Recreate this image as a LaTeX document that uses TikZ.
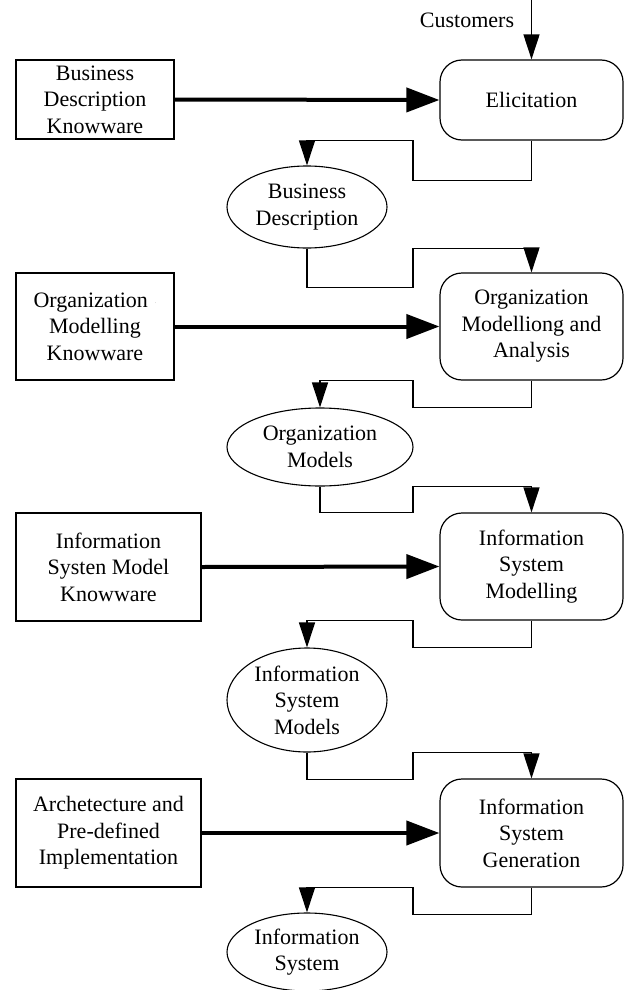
\documentclass[tikz,border=0pt]{standalone}
\usepackage{fontspec}
\setmainfont{Liberation Serif}
\usetikzlibrary{arrows.meta,shapes.geometric}

\tikzset{
  every node/.style={font=\fontsize{22}{26.5}\selectfont, align=center, inner sep=0pt},
  knowbox/.style={draw, line width=1.2pt, rectangle, minimum width=#1},
  knowbox/.default=158pt,
  procbox/.style={draw, line width=1.2pt, rectangle, rounded corners=22pt, minimum width=183pt},
  databox/.style={draw, line width=1.1pt, ellipse, inner sep=0pt},
  flow/.style={line width=1.3pt, -{Triangle[length=25pt,width=16pt]}},
  feed/.style={line width=4pt, -{Triangle[length=33pt,width=24pt]}},
}

\begin{document}
\begin{tikzpicture}[x=1pt,y=-1pt]
  \useasboundingbox (0,0) rectangle (626,990);

  % x position of the return jog of every process output
  \coordinate (jog) at (413,0);
  \coordinate (custin) at (531.5,0);

  % stage 1: elicitation
  \node[knowbox, minimum height=79pt] (bdk) at (95,99.5) {Business\\Description\\Knowware};
  \node[procbox, minimum height=80pt] (elic) at (531.5,100) {Elicitation};
  \node (cust) at (467,20) {Customers};
  \node[databox, minimum width=160pt, minimum height=82pt] (bd) at (307,207) {Business\\Description};

  % stage 2: organization modelling
  \node[knowbox, minimum height=107pt] (omk) at (95,326.5)
    {Organization\hspace{7pt}\textcolor{black!35}{\raisebox{4pt}{\fontsize{6}{6}\selectfont .}}\\Modelling\\Knowware};
  \node[procbox, minimum height=107pt] (oma) at (531.5,326.5) {Organization\\Modelliong and\\Analysis};
  \node[databox, minimum width=186pt, minimum height=78pt] (om) at (320,447) {Organization\\Models};

  % stage 3: information system modelling
  \node[knowbox=185pt, minimum height=108pt] (ismk) at (108.5,567) {Information\\Systen Model\\Knowware};
  \node[procbox, minimum height=107pt] (ism) at (531.5,566.5) {Information\\System\\Modelling};
  \node[databox, minimum width=160pt, minimum height=104pt] (isms) at (307,700) {Information\\System\\Models};

  % stage 4: generation
  \node[knowbox=185pt, minimum height=108pt] (ap) at (108.5,833) {Archetecture and\\Pre-defined\\Implementation};
  \node[procbox, minimum height=108pt] (isg) at (531.5,833) {Information\\System\\Generation};
  \node[databox, minimum width=160pt, minimum height=78pt] (is) at (307,952) {Information\\System};

  % knowware feeding each process
  \draw[feed] (bdk.east) -- (elic.west);
  \draw[feed] (omk.east) -- (oma.west);
  \draw[feed] (ismk.east) -- (ism.west);
  \draw[feed] (ap.east) -- (isg.west);

  % customers input
  \draw[flow] (custin) -- (elic.north);

  % process outputs and the inputs of the next process
  \draw[flow] (elic.south) -- ++(0,40) -| (jog |- elic.south) -| (bd.north);
  \draw[flow] (bd.south) -- ++(0,39) -| (jog |- bd.south) -| (oma.north);
  \draw[flow] (oma.south) -- ++(0,27) -| (jog |- oma.south) -| (om.north);
  \draw[flow] (om.south) -- ++(0,26) -| (jog |- om.south) -| (ism.north);
  \draw[flow] (ism.south) -- ++(0,27) -| (jog |- ism.south) -| (isms.north);
  \draw[flow] (isms.south) -- ++(0,27) -| (jog |- isms.south) -| (isg.north);
  \draw[flow] (isg.south) -- ++(0,27) -| (jog |- isg.south) -| (is.north);
\end{tikzpicture}
\end{document}
